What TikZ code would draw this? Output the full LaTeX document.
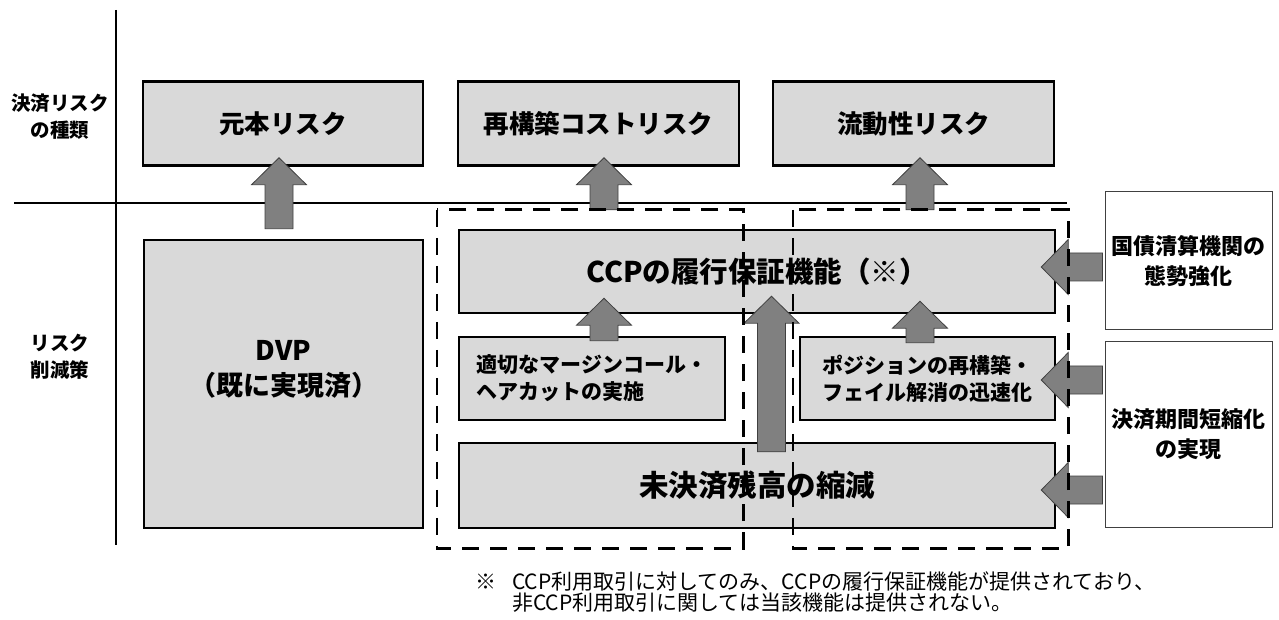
\documentclass[tikz,border=0pt]{standalone}
\usepackage{fontspec}
\setmainfont{Noto Sans CJK JP}
\usetikzlibrary{calc}
\definecolor{boxgray}{HTML}{D9D9D9}
\definecolor{arrowgray}{HTML}{808080}
\definecolor{arrowedge}{HTML}{404040}
\tikzset{
  riskbox/.style={draw, line width=2.5pt, fill=boxgray, minimum width=280pt, minimum height=84pt,
    font=\fontsize{25.5}{30}\selectfont\bfseries},
  measbox/.style={draw, line width=2.5pt, fill=boxgray, align=left,
    font=\fontsize{21}{27}\selectfont\bfseries},
  sidebox/.style={draw=arrowedge, line width=1pt, fill=white, align=center, minimum width=167pt,
    font=\fontsize{22}{30}\selectfont\bfseries},
  axislabel/.style={align=center, font=\fontsize{19.5}{27}\selectfont\bfseries},
  dashbox/.style={line width=2.6pt, dash pattern=on 17pt off 11pt},
  fatarrow/.style={fill=arrowgray, draw=arrowedge, line width=0.8pt, line join=miter}
}
% fat arrow from tail #1 to tip #2
\newcommand{\fatarrow}[2]{%
  \path (#1) coordinate (fa-s) (#2) coordinate (fa-t);
  \path ($(fa-t)!27pt!(fa-s)$) coordinate (fa-h);
  \draw[fatarrow] ($(fa-s)!14pt!90:(fa-t)$) -- ($(fa-h)!14pt!90:(fa-t)$)
    -- ($(fa-h)!27.5pt!90:(fa-t)$) -- (fa-t) -- ($(fa-h)!27.5pt!-90:(fa-t)$)
    -- ($(fa-h)!14pt!-90:(fa-t)$) -- ($(fa-s)!14pt!-90:(fa-t)$) -- cycle;
}

\begin{document}
\begin{tikzpicture}[x=1pt, y=1pt]
\useasboundingbox (0,0) rectangle (1279,619);

% axes
\draw[line width=1.8pt] (116,609) -- (116,74);
\draw[line width=1.8pt] (14,416) -- (1067,416);

\node[axislabel] (lbltype) at (60,502.5) {決済リスク\\の種類};
\node[axislabel] (lblmeas) at (60,262.5) {リスク\\削減策};

% risk types
\node[riskbox] (gk) at (283,495.5) {元本リスク};
\node[riskbox, minimum width=281pt] (rc) at (598.5,495.5) {再構築コストリスク};
\node[riskbox, minimum width=281pt] (ry) at (913.5,495.5) {流動性リスク};

% measures
\node[riskbox, minimum width=279pt, minimum height=288pt] (dvp) at (283.5,235) {};
\node[align=center, font=\fontsize{27}{35}\selectfont\bfseries] (dvptext) at ($(dvp.center)+(0,14.5)$) {DVP\\（既に実現済）};

\node[riskbox, minimum width=596pt, minimum height=83pt, font=\fontsize{28.5}{30}\selectfont\bfseries] (ccp) at (757,347.5) {CCPの履行保証機能（※）};
\node[measbox, minimum width=266pt, minimum height=83pt] (mg) at (592,240.5) {適切なマージンコール・\\ヘアカットの実施};
\node[measbox, minimum width=255pt, minimum height=83pt] (pos) at (927.5,240.5) {ポジションの再構築・\\フェイル解消の迅速化};
\node[riskbox, minimum width=596pt, minimum height=85pt, font=\fontsize{29.5}{30}\selectfont\bfseries] (mk) at (757,133.5) {未決済残高の縮減};

\node[sidebox, minimum height=138pt] (kokusai) at (1188.5,358) {国債清算機関の\\態勢強化};
\node[sidebox, minimum height=185pt] (kessai) at (1188.5,184.5) {決済期間短縮化\\の実現};

% dashed groups (drawn last)
\node[minimum width=306pt, minimum height=338pt, inner sep=0pt] (dashL) at (590,240) {};
\node[minimum width=275pt, minimum height=338pt, inner sep=0pt] (dashR) at (930.5,240) {};

% arrows
\fatarrow{$(dvp.north)+(-4.5,10)$}{$(gk.south)+(-4,9)$}
\fatarrow{$(dashL.north)+(14,0)$}{$(rc.south)+(5.5,9)$}
\fatarrow{$(dashR.north)+(-10.5,0)$}{$(ry.south)+(6.5,9)$}
\fatarrow{$(mg.north)+(12,-5)$}{$(mg.north |- ccp.south)+(12,16)$}
\fatarrow{$(pos.north)+(-7.5,-7)$}{$(pos.north |- ccp.south)+(-7.5,13)$}
\fatarrow{$(mk.north)+(14.5,-10)$}{$(ccp.south)+(14.5,18)$}
\fatarrow{$(kokusai.west)+(-2,-6)$}{$(ccp.east)+(-15,4.5)$}
\fatarrow{$(kessai.west |- pos.east)+(-2,-1.5)$}{$(pos.east)+(-15,-1.5)$}
\fatarrow{$(kessai.west |- mk.east)+(-2,-4.5)$}{$(mk.east)+(-15,-4.5)$}

\draw[dashbox] (dashL.north west) rectangle (dashL.south east);
\draw[dashbox] (dashR.north west) rectangle (dashR.south east);

% note
\node[anchor=base west, inner sep=0pt, font=\fontsize{21}{21}\selectfont] (notemark) at (475,30) {※};
\node[anchor=base west, inner sep=0pt, align=left, font=\fontsize{21}{21}\selectfont] (notetext) at (512,9)
  {CCP利用取引に対してのみ、CCPの履行保証機能が提供されており、\\非CCP利用取引に関しては当該機能は提供されない。};
\end{tikzpicture}
\end{document}
